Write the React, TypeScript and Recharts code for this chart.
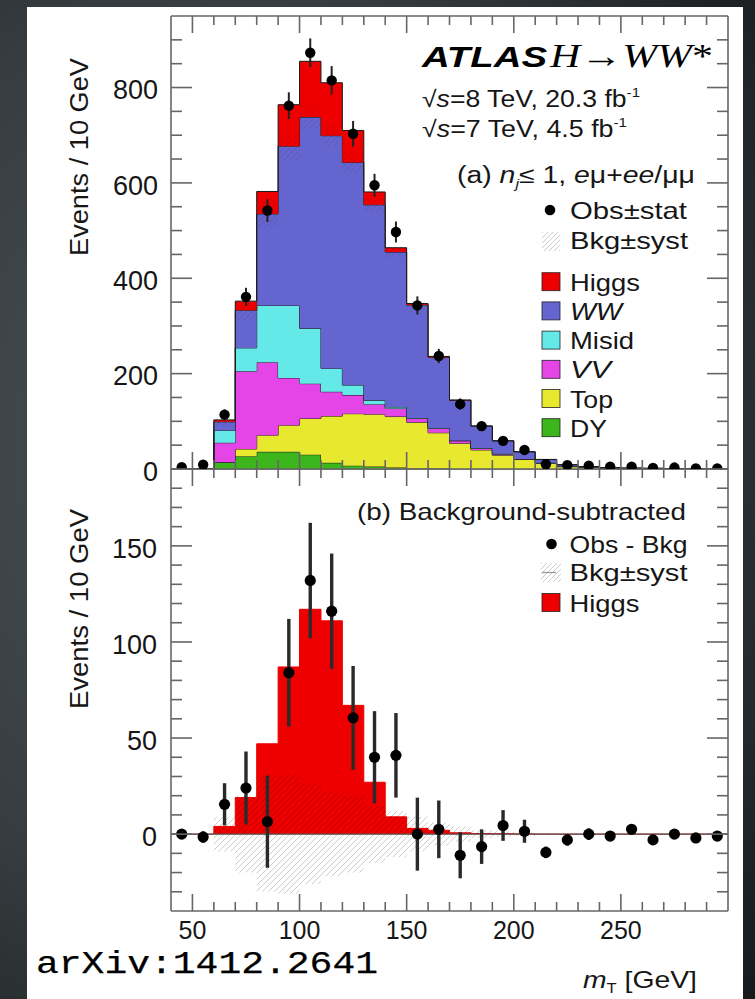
import React from 'react';
import { ComposedChart, Area, Scatter, XAxis, YAxis, ErrorBar, ReferenceLine } from 'recharts';

// ---------- data ----------
const binEdges = [40, 50, 60, 70, 80, 90, 100, 110, 120, 130, 140, 150, 160, 170, 180, 190, 200, 210, 220, 230, 240, 250, 260, 270, 280, 290, 300];
const binCenters = [45, 55, 65, 75, 85, 95, 105, 115, 125, 135, 145, 155, 165, 175, 185, 195, 205, 215, 225, 235, 245, 255, 265, 275, 285, 295];

const dyEvents = [0, 0, 14, 27, 36, 36, 30, 13, 7, 5, 3, 1, 1, 0, 0, 0, 0, 0, 0, 0, 0, 0, 0, 0, 0, 0];
const topEvents = [0, 0, 0, 15, 35, 56, 76, 98, 109, 110, 107, 97, 75, 54, 40, 29, 20, 12, 5, 3, 2, 1, 1, 0.5, 0.3, 0.2];
const vvEvents = [0, 0, 41, 163, 153, 99, 73, 51, 39, 21, 17, 8, 9, 5, 3, 2, 1, 0, 0, 0, 0, 0, 0, 0, 0, 0];
const misidEvents = [0, 0, 26, 49, 119, 152, 116, 49, 21, 8, 3, 1, 1, 1, 1, 1, 0, 1, 1, 0, 0, 0, 0, 0, 0, 0];
const wwEvents = [0, 0, 18, 79, 192, 334, 443, 488, 467, 410, 325, 237, 148, 84, 46, 27, 15, 7, 3, 2, 1, 1, 0.5, 0.5, 0.3, 0.2];
const higgsEvents = [0, 0, 4, 19, 47, 87, 117, 111, 67, 27, 9, 3, 2, 0.7, 0.3, 0.2, 0.1, 0, 0, 0, 0, 0, 0, 0, 0, 0];

const observed = [4, 9, 114, 361, 542, 762, 873, 815, 703, 595, 497, 343, 237, 136, 90, 59, 40, 10, 8, 7, 5, 5, 2, 3, 1, 1];
const statErr = [2, 3, 11, 19, 24, 28, 30, 30, 27, 24, 22, 19, 15, 12, 9, 8, 6, 3, 3, 3, 2, 2, 1, 2, 1, 1];
const obsMinusBkg = [0, -1.5, 15.5, 24, 6.5, 84, 132, 116, 60.5, 40, 41, 0, 2.5, -11, -6.5, 4.5, 1.5, -9.5, -3, 0, -1, 2.5, -3, 0, -2, -1];
const bkgSyst = [0, 0, 9, 20, 30, 31, 26, 22, 20, 15, 12, 9, 6, 4, 2, 1.5, 1, 0.5, 0, 0, 0, 0, 0, 0, 0, 0];

const xTicks = [50, 60, 70, 80, 90, 100, 110, 120, 130, 140, 150, 160, 170, 180, 190, 200, 210, 220, 230, 240, 250, 260, 270, 280, 290];
const xMajorTicks = [50, 100, 150, 200, 250];
const upperYTicks = [0, 50, 100, 150, 200, 250, 300, 350, 400, 450, 500, 550, 600, 650, 700, 750, 800, 850, 900];
const upperYMajor = [0, 200, 400, 600, 800];
const lowerYTicks = [-30, -20, -10, 0, 10, 20, 30, 40, 50, 60, 70, 80, 90, 100, 110, 120, 130, 140, 150, 160, 170, 180];
const lowerYMajor = [0, 50, 100, 150];

const upperLegendLabels = ['Higgs', 'WW', 'Misid', 'VV', 'Top', 'DY'];

// ---------- styles ----------
const COLORS: Record<string, string> = {
  Higgs: '#ee0000',
  WW: '#6565cf',
  Misid: '#64e8e8',
  VV: '#e545e6',
  Top: '#e8e82e',
  DY: '#3db51c',
};
const SANS = '"Liberation Sans", Arial, Helvetica, sans-serif';
const SERIF = '"Liberation Serif", "Times New Roman", serif';
const FRAME = '#666';
const TEXT = '#161616';

// ---------- derived tables ----------
const last = binCenters.length - 1;
const upperData = binEdges.map((x, i) => {
  const j = Math.min(i, last);
  const bkg = dyEvents[j] + topEvents[j] + vvEvents[j] + misidEvents[j] + wwEvents[j];
  return {
    x,
    DY: dyEvents[j],
    Top: topEvents[j],
    VV: vvEvents[j],
    Misid: misidEvents[j],
    WW: wwEvents[j],
    Higgs: higgsEvents[j],
    band: [bkg - bkgSyst[j], bkg + bkgSyst[j]],
  };
});
const lowerData = binEdges.map((x, i) => {
  const j = Math.min(i, last);
  return { x, Higgs: higgsEvents[j], band: [-bkgSyst[j], bkgSyst[j]] };
});
const upperPoints = binCenters.map((x, i) => ({ x, obs: observed[i], err: statErr[i] }));
const lowerPoints = binCenters.map((x, i) => ({ x, diff: obsMinusBkg[i], err: statErr[i] }));

// ---------- ticks (ROOT style, inward) ----------
type Side = 'left' | 'right' | 'top' | 'bottom';
function axisTick(side: Side, majors: number[], showLabels: boolean, majorLen: number, minorLen: number, margin: number, fontSize: number) {
  return (props: any) => {
    const { x, y, payload } = props;
    const v = payload.value;
    const major = majors.indexOf(v) >= 0;
    const len = major ? majorLen : minorLen;
    let line: React.ReactNode = null;
    let label: React.ReactNode = null;
    if (side === 'left') {
      const px = x + margin;
      line = <line x1={px} y1={y} x2={px + len} y2={y} stroke={FRAME} strokeWidth={1.6} />;
      if (showLabels && major)
        label = (
          <text x={x} y={y + fontSize * 0.36 + 2} textAnchor="end" fontSize={fontSize} fontFamily={SANS} fill={TEXT}>
            {v}
          </text>
        );
    } else if (side === 'right') {
      const px = x - margin;
      line = <line x1={px} y1={y} x2={px - len} y2={y} stroke={FRAME} strokeWidth={1.6} />;
    } else if (side === 'bottom') {
      const py = y - margin;
      line = <line x1={x} y1={py} x2={x} y2={py - len} stroke={FRAME} strokeWidth={1.6} />;
      if (showLabels && major)
        label = (
          <text x={x} y={py + 28} textAnchor="middle" fontSize={fontSize} fontFamily={SANS} fill={TEXT}>
            {v}
          </text>
        );
    } else {
      const py = y + margin;
      line = <line x1={x} y1={py} x2={x} y2={py + len} stroke={FRAME} strokeWidth={1.6} />;
    }
    return (
      <g>
        {line}
        {label}
      </g>
    );
  };
}

const hatchPath = 'M-1,1 l2,-2 M0,6 l6,-6 M5,7 l2,-2';

function UpperChart() {
  return (
    <ComposedChart width={755} height={500} data={upperData} margin={{ top: 0, right: 0, bottom: 0, left: 0 }}>
      <defs>
        <pattern id="hatchUpper" patternUnits="userSpaceOnUse" width="6" height="6">
          <path d={hatchPath} stroke="#000" strokeOpacity={0.1} strokeWidth={1} />
        </pattern>
      </defs>
      <XAxis xAxisId="b" dataKey="x" type="number" domain={[40, 300]} allowDataOverflow orientation="bottom" height={31}
        ticks={xTicks} interval={0} tickSize={0} tickMargin={0} tickLine={false}
        axisLine={{ stroke: FRAME, strokeWidth: 1.6 }} tick={axisTick('bottom', xMajorTicks, false, 17, 9, 0, 25)} />
      <XAxis xAxisId="t" dataKey="x" type="number" domain={[40, 300]} allowDataOverflow orientation="top" height={16}
        ticks={xTicks} interval={0} tickSize={0} tickMargin={0} tickLine={false}
        axisLine={{ stroke: FRAME, strokeWidth: 1.6 }} tick={axisTick('top', xMajorTicks, false, 17, 9, 0, 25)} />
      <YAxis yAxisId="l" type="number" domain={[0, 950]} allowDataOverflow orientation="left" width={171}
        ticks={upperYTicks} interval={0} tickSize={0} tickMargin={13} tickLine={false}
        axisLine={{ stroke: FRAME, strokeWidth: 1.6 }} tick={axisTick('left', upperYMajor, true, 21, 11, 13, 27)} />
      <YAxis yAxisId="r" type="number" domain={[0, 950]} allowDataOverflow orientation="right" width={27}
        ticks={upperYTicks} interval={0} tickSize={0} tickMargin={0} tickLine={false}
        axisLine={{ stroke: FRAME, strokeWidth: 1.6 }} tick={axisTick('right', upperYMajor, false, 21, 11, 0, 27)} />
      {['DY', 'Top', 'VV', 'Misid', 'WW', 'Higgs'].map((k) => (
        <Area key={k} xAxisId="b" yAxisId="l" type="stepAfter" dataKey={k} stackId="stack" fill={COLORS[k]} fillOpacity={1}
          stroke="#1a1a1a" strokeWidth={1} isAnimationActive={false} dot={false} activeDot={false} />
      ))}
      <Area xAxisId="b" yAxisId="l" type="stepAfter" dataKey="band" fill="url(#hatchUpper)" fillOpacity={1} stroke="none"
        isAnimationActive={false} dot={false} activeDot={false} />
      <Scatter xAxisId="b" yAxisId="l" data={upperPoints} dataKey="obs" isAnimationActive={false}
        shape={(p: any) => <circle cx={p.cx} cy={p.cy} r={5.2} fill="#000" />}>
        <ErrorBar dataKey="err" direction="y" width={0} stroke="#222" strokeWidth={2} />
      </Scatter>
    </ComposedChart>
  );
}

function LowerChart() {
  return (
    <ComposedChart width={755} height={559} data={lowerData} margin={{ top: 0, right: 0, bottom: 0, left: 0 }}>
      <defs>
        <pattern id="hatchLower" patternUnits="userSpaceOnUse" width="6" height="6">
          <path d={hatchPath} stroke="#000" strokeOpacity={0.2} strokeWidth={1} />
        </pattern>
      </defs>
      <XAxis xAxisId="b" dataKey="x" type="number" domain={[40, 300]} allowDataOverflow orientation="bottom" height={88}
        ticks={xTicks} interval={0} tickSize={0} tickMargin={0} tickLine={false}
        axisLine={{ stroke: FRAME, strokeWidth: 1.6 }} tick={axisTick('bottom', xMajorTicks, true, 17, 9, 0, 25)} />
      <XAxis xAxisId="t" dataKey="x" type="number" domain={[40, 300]} allowDataOverflow orientation="top" height={29}
        ticks={xTicks} interval={0} tickSize={0} tickMargin={0} tickLine={false}
        axisLine={{ stroke: FRAME, strokeWidth: 1.6 }} tick={axisTick('top', xMajorTicks, false, 17, 9, 0, 25)} />
      <YAxis yAxisId="l" type="number" domain={[-40, 190]} allowDataOverflow orientation="left" width={171}
        ticks={lowerYTicks} interval={0} tickSize={0} tickMargin={14} tickLine={false}
        axisLine={{ stroke: FRAME, strokeWidth: 1.6 }} tick={axisTick('left', lowerYMajor, true, 21, 11, 14, 27)} />
      <YAxis yAxisId="r" type="number" domain={[-40, 190]} allowDataOverflow orientation="right" width={27}
        ticks={lowerYTicks} interval={0} tickSize={0} tickMargin={0} tickLine={false}
        axisLine={{ stroke: FRAME, strokeWidth: 1.6 }} tick={axisTick('right', lowerYMajor, false, 21, 11, 0, 27)} />
      <Area xAxisId="b" yAxisId="l" type="stepAfter" dataKey="Higgs" baseValue={0} fill={COLORS.Higgs} fillOpacity={1}
        stroke={COLORS.Higgs} strokeWidth={1} isAnimationActive={false} dot={false} activeDot={false} />
      <Area xAxisId="b" yAxisId="l" type="stepAfter" dataKey="band" fill="url(#hatchLower)" fillOpacity={1} stroke="none"
        isAnimationActive={false} dot={false} activeDot={false} />
      <ReferenceLine xAxisId="b" yAxisId="l" y={0} stroke="#555" strokeWidth={1.4} />
      <Scatter xAxisId="b" yAxisId="l" data={lowerPoints} dataKey="diff" isAnimationActive={false}
        shape={(p: any) => <circle cx={p.cx} cy={p.cy} r={5.6} fill="#000" />}>
        <ErrorBar dataKey="err" direction="y" width={0} stroke="#2a2a2a" strokeWidth={3.4} />
      </Scatter>
    </ComposedChart>
  );
}

function Overlay() {
  const rowBase = [290.7, 319.9, 349.1, 378.3, 407.5, 436.7];
  const rowWidth: Record<string, number> = { Higgs: 70, WW: 52, Misid: 64, VV: 41, Top: 43, DY: 37 };
  return (
    <svg width={755} height={999} style={{ position: 'absolute', left: 0, top: 0, pointerEvents: 'none' }}>
      <defs>
        <pattern id="hatchLegend" patternUnits="userSpaceOnUse" width="5" height="5">
          <path d="M-1,1 l2,-2 M0,5 l5,-5 M4,6 l2,-2" stroke="#000" strokeOpacity={0.2} strokeWidth={1} />
        </pattern>
      </defs>
      {/* axis titles */}
      <text transform="translate(88,157) rotate(-90)" textAnchor="middle" fontFamily={SANS} fontSize={26} fill={TEXT}
        textLength={198} lengthAdjust="spacingAndGlyphs">Events / 10 GeV</text>
      <text transform="translate(88,609) rotate(-90)" textAnchor="middle" fontFamily={SANS} fontSize={26} fill={TEXT}
        textLength={200} lengthAdjust="spacingAndGlyphs">Events / 10 GeV</text>
      <text x={583} y={988} fontFamily={SANS} fontSize={24} fill={TEXT} textLength={114} lengthAdjust="spacingAndGlyphs">
        <tspan fontStyle="italic">m</tspan>
        <tspan fontSize={14} dy={5}>T</tspan>
        <tspan dy={-5}> [GeV]</tspan>
      </text>
      {/* header */}
      <text x={422} y={66.7} fontFamily={SANS} fontWeight="bold" fontStyle="italic" fontSize={30} fill="#000"
        textLength={125} lengthAdjust="spacingAndGlyphs">ATLAS</text>
      <text x={550} y={66.7} fontFamily={SERIF} fontSize={33} fill="#000" textLength={163} lengthAdjust="spacingAndGlyphs">
        <tspan fontStyle="italic">H</tspan>→<tspan fontStyle="italic">WW</tspan>*
      </text>
      <text x={422} y={106.7} fontFamily={SANS} fontSize={23} fill={TEXT} textLength={218} lengthAdjust="spacingAndGlyphs">
        √<tspan fontStyle="italic">s</tspan>=8 TeV, 20.3 fb<tspan fontSize={13} dy={-10}>-1</tspan>
      </text>
      <text x={422} y={137.3} fontFamily={SANS} fontSize={23} fill={TEXT} textLength={205} lengthAdjust="spacingAndGlyphs">
        √<tspan fontStyle="italic">s</tspan>=7 TeV, 4.5 fb<tspan fontSize={13} dy={-10}>-1</tspan>
      </text>
      <text x={457} y={183.3} fontFamily={SANS} fontSize={23} fill={TEXT} textLength={238} lengthAdjust="spacingAndGlyphs">
        (a) <tspan fontStyle="italic">n</tspan><tspan fontSize={13} dy={5} fontStyle="italic">j</tspan>
        <tspan dy={-5}>≤ 1, </tspan><tspan fontStyle="italic">e</tspan>μ+<tspan fontStyle="italic">ee</tspan>/μμ
      </text>
      {/* upper legend */}
      <circle cx={550} cy={210} r={5.3} fill="#000" />
      <text x={570} y={219.3} fontFamily={SANS} fontSize={24} fill={TEXT} textLength={117} lengthAdjust="spacingAndGlyphs">Obs±stat</text>
      <rect x={542} y={232} width={18} height={19} fill="url(#hatchLegend)" />
      <text x={570} y={249.3} fontFamily={SANS} fontSize={24} fill={TEXT} textLength={118} lengthAdjust="spacingAndGlyphs">Bkg±syst</text>
      {upperLegendLabels.map((lab, i) => (
        <g key={lab}>
          <rect x={542} y={rowBase[i] - 18} width={18} height={18} fill={COLORS[lab]} stroke="#222" strokeWidth={0.8} />
          <text x={570} y={rowBase[i]} fontFamily={SANS} fontSize={24} fill={TEXT}
            fontStyle={lab === 'WW' || lab === 'VV' ? 'italic' : 'normal'}
            textLength={rowWidth[lab]} lengthAdjust="spacingAndGlyphs">{lab}</text>
        </g>
      ))}
      {/* lower legend */}
      <text x={357} y={520} fontFamily={SANS} fontSize={24} fill={TEXT} textLength={329} lengthAdjust="spacingAndGlyphs">(b) Background-subtracted</text>
      <circle cx={551.5} cy={544} r={5.3} fill="#000" />
      <text x={569.5} y={553} fontFamily={SANS} fontSize={24} fill={TEXT} textLength={118} lengthAdjust="spacingAndGlyphs">Obs - Bkg</text>
      <rect x={541} y={563} width={20} height={19} fill="url(#hatchLegend)" />
      <line x1={542} y1={572.5} x2={556} y2={572.5} stroke="#999" strokeWidth={1.3} />
      <text x={569.5} y={581} fontFamily={SANS} fontSize={24} fill={TEXT} textLength={118} lengthAdjust="spacingAndGlyphs">Bkg±syst</text>
      <rect x={542} y={593.5} width={18} height={18} fill={COLORS.Higgs} stroke="#222" strokeWidth={0.8} />
      <text x={569.5} y={611.5} fontFamily={SANS} fontSize={24} fill={TEXT} textLength={70} lengthAdjust="spacingAndGlyphs">Higgs</text>
      {/* source */}
      <text x={36} y={973} fontFamily={'"Liberation Mono", "Courier New", monospace'} fontSize={32} fill="#000"
        stroke="#000" strokeWidth={0.25} textLength={342} lengthAdjust="spacingAndGlyphs">arXiv:1412.2641</text>
    </svg>
  );
}

export default function App() {
  return (
    <div
      style={{
        position: 'absolute',
        left: 0,
        top: 0,
        width: 755,
        height: 999,
        overflow: 'hidden',
        background: 'radial-gradient(ellipse 95% 85% at 30% 45%, #4b5356 0%, #363c3f 55%, #15181a 100%)',
      }}
    >
      <div style={{ position: 'absolute', left: 27, top: 7, width: 716, height: 992, background: '#fff' }} />
      <div style={{ position: 'absolute', left: 0, top: 440, width: 755, height: 559 }}>
        <LowerChart />
      </div>
      <div style={{ position: 'absolute', left: 0, top: 0, width: 755, height: 500 }}>
        <UpperChart />
      </div>
      <Overlay />
    </div>
  );
}
